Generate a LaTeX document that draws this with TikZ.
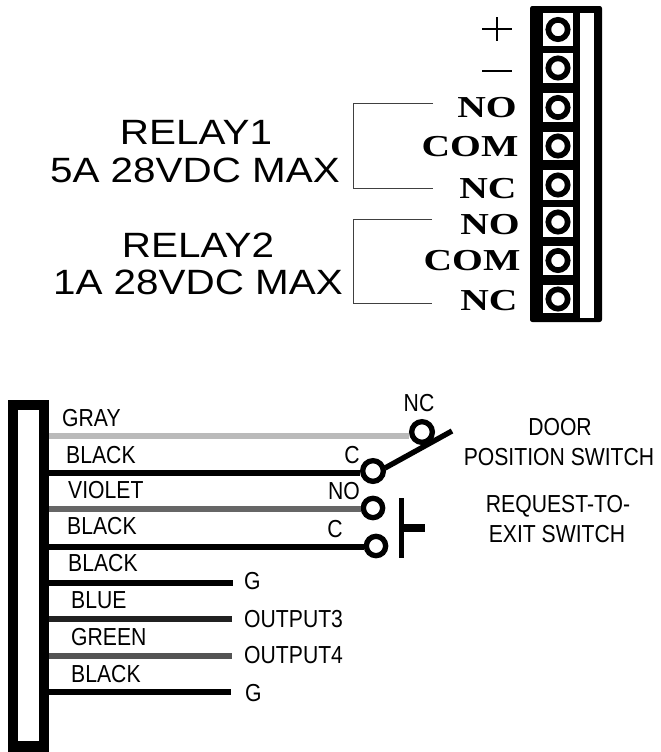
\documentclass[tikz,border=0pt]{standalone}
\usepackage{fontspec}
\usepackage{graphicx}
\setmainfont{Liberation Sans}
\newfontfamily\relayfont{Liberation Serif}
\newcommand{\wiretext}[1]{\scalebox{0.86}[1]{#1}}
\newcommand{\relaytext}[1]{\scalebox{1.15}[1]{#1}}
\newcommand{\termtext}[1]{\scalebox{1.3}[1]{#1}}
\begin{document}
\begin{tikzpicture}[x=0.03cm, y=-0.03cm]
            \tikzset{wirelabel/.style={inner sep=0pt, font=\fontsize{21}{21}\selectfont}}
            \tikzset{relaylabel/.style={inner sep=0pt, font=\fontsize{30}{30}\selectfont}}
            \tikzset{termlabel/.style={inner sep=0pt, font=\fontsize{26}{26}\selectfont\relayfont\bfseries}}
            \tikzset{bracket/.style={black!75, line width=0.8pt}}
            \tikzset{wire/.style={line width=0.16cm}}
            \tikzset{contact/.style={circle, draw, line width=0.16cm, fill=white, inner sep=0pt, minimum size=0.62cm}}
            \useasboundingbox (0, 0) rectangle (660, 752);
            % terminal block
            \fill[black, rounded corners=2pt] (530, 6) rectangle (602, 322);
            \fill[white] (580, 13) rectangle (594, 318);
            \foreach \t/\b in {13/46, 53/83, 93/122, 132/160, 170/200, 207/237, 246/275, 285/313} {
                \fill[white] (543, \t) rectangle (573, \b);
                \draw[line width=0.17cm] (558, {(\t+\b)/2}) circle[radius=0.29cm];
            }
            \draw[line width=0.9pt] (482, 29) -- (512, 29);
            \draw[line width=0.9pt] (497, 17) -- (497, 41);
            \draw[line width=0.9pt] (482, 71) -- (512, 71);
            \node[termlabel] (no1) at (487, 108) {\termtext{NO}};
            \node[termlabel] (com1) at (470, 147) {\termtext{COM}};
            \node[termlabel] (nc1) at (488, 189) {\termtext{NC}};
            \node[termlabel] (no2) at (490, 225) {\termtext{NO}};
            \node[termlabel] (com2) at (472, 261) {\termtext{COM}};
            \node[termlabel] (nc2) at (489, 301) {\termtext{NC}};
            \coordinate (R1a) at (433, 103);
            \coordinate (R1b) at (433, 188);
            \coordinate (R2a) at (432, 219);
            \coordinate (R2b) at (432, 303);
            \draw[bracket] (R1a) -- (353, 103) -- (353, 188) -- (R1b);
            \draw[bracket] (R2a) -- (353, 219) -- (353, 303) -- (R2b);
            \node[relaylabel] (relay1) at (196, 132) {\relaytext{RELAY1}};
            \node[relaylabel] (max1) at (195, 170) {\relaytext{5A 28VDC MAX}};
            \node[relaylabel] (relay2) at (198, 245) {\relaytext{RELAY2}};
            \node[relaylabel] (max2) at (198, 282) {\relaytext{1A 28VDC MAX}};
            % connector
            \draw[line width=0.3cm] (13, 405) rectangle (44, 747);
            \fill[black] (8, 741) rectangle (49, 752);
            % switch contacts
            \draw[line width=0.16cm] (385, 468) -- (452, 431);
            \node[contact] (NCpin) at (422, 432) {};
            \node[contact] (Cpin) at (373, 471) {};
            \node[contact, minimum size=0.58cm] (NOpin) at (373, 508) {};
            \node[contact, minimum size=0.58cm] (Cpintwo) at (376, 546) {};
            \coordinate (G1) at (233, 583);
            \coordinate (OUT3) at (232, 619);
            \coordinate (OUT4) at (232, 656);
            \coordinate (G2) at (231, 692);
            \foreach \y/\c/\e in {436/black!27/NCpin, 473/black/Cpin, 509/black!60/NOpin, 547/black/Cpintwo, 583/black/G1, 619/black!87/OUT3, 656/black!67/OUT4, 692/black/G2} {
                \coordinate (S) at (49, \y);
                \draw[wire, color=\c] (S) -- (S -| \e.west);
            }
            \draw[line width=0.15cm] (401, 498) -- (401, 558);
            \draw[line width=0.24cm] (401, 528) -- (425, 528);
            % labels
            \foreach \x/\y/\t in {62/418/GRAY, 66/455/BLACK, 68/490/VIOLET, 67/526/BLACK, 68/563/BLACK, 71/600/BLUE, 71/637/GREEN, 71/674/BLACK} {
                \node[wirelabel, anchor=west] at (\x, \y) {\wiretext{\t}};
            }
            \foreach \x/\y/\t in {244/581/G, 244/619/OUTPUT3, 244/655/OUTPUT4, 245/693/G} {
                \node[wirelabel, anchor=west] at (\x, \y) {\wiretext{\t}};
            }
            \node[wirelabel] at (419, 403) {\wiretext{NC}};
            \node[wirelabel] at (352, 455) {\wiretext{C}};
            \node[wirelabel] at (344, 491) {\wiretext{NO}};
            \node[wirelabel] at (335, 529) {\wiretext{C}};
            \node[wirelabel] at (560, 427) {\wiretext{DOOR}};
            \node[wirelabel] at (559, 457) {\wiretext{POSITION SWITCH}};
            \node[wirelabel] at (558, 506) {\wiretext{REQUEST-TO-}};
            \node[wirelabel] at (557, 534) {\wiretext{EXIT SWITCH}};
        \end{tikzpicture}
\end{document}
